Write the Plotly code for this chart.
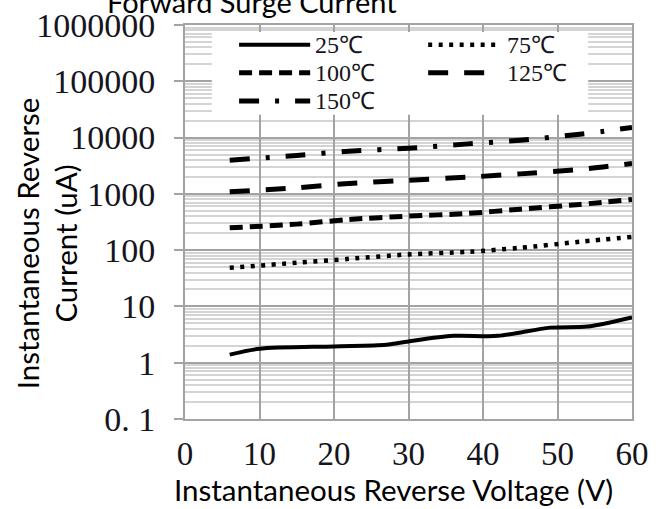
import plotly.graph_objects as go

# ---------------- data ----------------
v_25 = [6, 10, 20, 27, 30, 36, 42, 49, 54, 60]
i_25 = [1.39, 1.77, 1.95, 2.08, 2.39, 3.0, 3.0, 4.2, 4.4, 6.4]

v_hot = [6, 15, 22, 30, 38, 45, 53, 60]
i_75 = [48.6, 59.6, 70, 84, 93.5, 110, 141, 172]
i_100 = [249, 290, 351, 402, 449, 535, 649, 796]
i_125 = [1086, 1279, 1530, 1750, 1981, 2265, 2711, 3466]
i_150 = [3965, 4810, 5730, 6470, 7730, 8990, 11480, 15100]

series_names = ["25℃", "75℃", "100℃", "125℃", "150℃"]
x_ticks = [0, 10, 20, 30, 40, 50, 60]
y_tickvals = [0.1, 1, 10, 100, 1000, 10000, 100000, 1000000]
y_ticktext = ["0. 1", "1", "10", "100", "1000", "10000", "100000", "1000000"]

title_text = "Forward Surge Current"
x_title = "Instantaneous Reverse Voltage (V)"
y_title = "Instantaneous Reverse<br>Current (uA)"

# ---------------- styles ----------------
dashes = ["solid", "4px,6.5px", "13px,7px", "20px,16px", "20px,16px,4px,16px"]
widths = [4, 4.5, 5, 5, 5]

xs = [v_25, v_hot, v_hot, v_hot, v_hot]
ys = [i_25, i_75, i_100, i_125, i_150]

fig = go.Figure()
for name, x, y, d, w in zip(series_names, xs, ys, dashes, widths):
    fig.add_trace(go.Scatter(
        x=x, y=y, mode="lines", name=name,
        line=dict(color="black", width=w, dash=d, shape="spline", smoothing=0.8),
        showlegend=False, cliponaxis=False,
    ))

serif = "Liberation Serif, Times New Roman, serif"
sans = "Lato, Open Sans, sans-serif"
grid_major = "#a3a3a3"
grid_minor = "#d4d4d4"

fig.update_layout(
    width=662, height=509,
    margin=dict(l=185, r=30, t=25, b=90),
    paper_bgcolor="white", plot_bgcolor="white",
    showlegend=False,
)

fig.update_xaxes(
    range=[0, 60], tickvals=x_ticks, ticktext=[str(v) for v in x_ticks],
    showgrid=True, gridcolor=grid_major, gridwidth=2,
    showline=True, linecolor=grid_major, linewidth=2, mirror=True,
    ticks="", ticklabelstandoff=4,
    tickfont=dict(family=serif, size=33, color="#151520"),
    zeroline=False, automargin=False,
)
fig.update_yaxes(
    type="log", range=[-1, 6], tickvals=y_tickvals, ticktext=y_ticktext,
    showgrid=True, gridcolor=grid_major, gridwidth=2,
    showline=True, linecolor=grid_major, linewidth=2, mirror=True,
    ticks="outside", ticklen=9, tickcolor=grid_major, tickwidth=1.5,
    ticklabelstandoff=12,
    tickfont=dict(family=serif, size=34, color="#151520"),
    minor=dict(dtick="D1", showgrid=True, gridcolor=grid_minor, gridwidth=1.5, ticks=""),
    zeroline=False, automargin=False,
)

# ---------------- titles ----------------
fig.add_annotation(text=title_text, xref="paper", yref="paper", x=0.15, y=1.010,
                   xanchor="center", yanchor="bottom", showarrow=False,
                   font=dict(family=sans, size=29, color="black"))
fig.add_annotation(text=x_title, xref="paper", yref="paper", x=0.466, y=-0.179,
                   xanchor="center", yanchor="middle", showarrow=False,
                   font=dict(family=sans, size=29.5, color="black"))
fig.add_annotation(text=y_title, xref="paper", yref="paper", x=-0.31, y=0.447,
                   xanchor="center", yanchor="middle", showarrow=False, textangle=-90,
                   font=dict(family=sans, size=29.5, color="black"))

# ---------------- custom legend (box, samples, labels) ----------------
fig.add_shape(type="rect", xref="paper", yref="paper", x0=0.060, x1=0.902, y0=0.772, y1=0.982,
              fillcolor="white", line=dict(width=0), layer="above")
leg_cols = [(0.121, 0.280, 0.287), (0.544, 0.698, 0.716)]
leg_rows = [0.950, 0.879, 0.807]
for k, (name, d, w) in enumerate(zip(series_names, dashes, widths)):
    c0, c1, ct = leg_cols[k % 2]
    ry = leg_rows[k // 2]
    fig.add_shape(type="line", xref="paper", yref="paper", x0=c0, x1=c1, y0=ry, y1=ry,
                  line=dict(color="black", width=w, dash=d), layer="above")
    fig.add_annotation(text=name, xref="paper", yref="paper", x=ct, y=ry,
                       xanchor="left", yanchor="middle", showarrow=False,
                       font=dict(family=serif, size=24, color="#151520"))

fig.write_html("out.html", post_script="document.body.style.margin='0';",
               config={"displayModeBar": False})
